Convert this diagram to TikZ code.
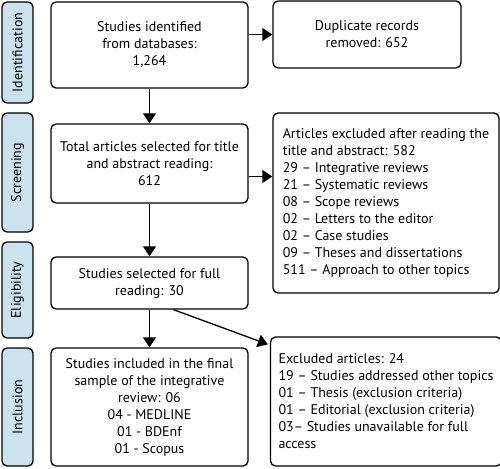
\documentclass[tikz,border=0pt]{standalone}
\usepackage{fontspec}
\setmainfont{PT Sans}
\usetikzlibrary{arrows.meta}
\definecolor{stageblue}{RGB}{204,226,238}

\begin{document}
\begin{tikzpicture}[x=1pt,y=-1pt,
	font=\fontsize{14}{17}\selectfont,
	box/.style={draw, rounded corners=5pt, line width=1.3pt, align=center, inner sep=4pt},
	listbox/.style={box, align=left, inner xsep=8pt},
	stage/.style={draw, fill=stageblue, rounded corners=5pt, line width=1.3pt, rotate=90, minimum height=31pt},
	arr/.style={line width=1.3pt, -{Triangle[width=13pt,length=10pt]}}]
			\useasboundingbox (0,0) rectangle (500,468);
			% phases
			\node[stage, minimum width=101pt] (sid) at (17.5,52.5) {Identification};
			\node[stage, minimum width=119pt] (sscr) at (17.5,172.5) {Screening};
			\node[stage, minimum width=96pt] (selig) at (17.5,290) {Eligibility};
			\node[stage, minimum width=118pt] (sincl) at (17.5,407) {Inclusion};
			% main column
			\node[box, minimum width=197pt, minimum height=86pt] (ident) at (149.5,45) {Studies identified\\from databases:\\1,264};
			\node[box, minimum width=197pt, minimum height=79pt] (screen) at (149.5,163.5) {Total articles selected for title\\and abstract reading:\\612};
			\node[box, minimum width=197pt, minimum height=52pt] (elig) at (149.5,283) {Studies selected for full\\reading: 30};
			\node[box, minimum width=197pt, minimum height=118pt] (incl) at (149.5,407) {Studies included in the final\\sample of the integrative\\review: 06\\04 - MEDLINE\\01 - BDEnf\\01 - Scopus};
			% excluded
			\node[box, minimum width=188pt, minimum height=67pt] (dup) at (367,34.5) {Duplicate records\\removed: 652};
			\node[listbox, minimum width=226pt, minimum height=180pt] (excl1) at (386,203) {Articles excluded after reading the\\title and abstract: 582\\29 -- Integrative reviews\\21 -- Systematic reviews\\08 -- Scope reviews\\02 -- Letters to the editor\\02 -- Case studies\\09 -- Theses and dissertations\\511 -- Approach to other topics};
			\node[listbox, minimum width=226pt, minimum height=129pt] (excl2) at (386,401.5) {Excluded articles: 24\\19 -- Studies addressed other topics\\01 -- Thesis (exclusion criteria)\\01 -- Editorial (exclusion criteria)\\03-- Studies unavailable for full\\access};
			% arrows
			\draw[arr] (ident) -- (screen);
			\draw[arr] (screen) -- (elig);
			\draw[arr] (elig) -- (incl);
			\draw[arr] (ident.east |- dup.west) -- (dup.west);
			\draw[arr] ([yshift=-13pt]screen.east) -- ([yshift=-13pt]screen.east -| excl1.west);
			\draw[arr] ([xshift=24pt]elig.south) -- ([yshift=-8pt,xshift=-2pt]excl2.north west);
		\end{tikzpicture}
\end{document}
